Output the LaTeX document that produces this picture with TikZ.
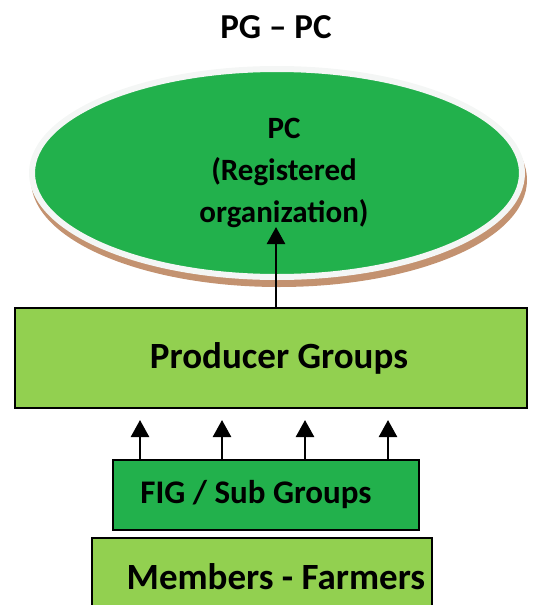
\documentclass[tikz,border=0pt]{standalone}
\usepackage{fontspec}
\setmainfont{Carlito}
\usetikzlibrary{arrows.meta,positioning,shapes.geometric}
\definecolor{pcgreen}{RGB}{34,177,76}
\definecolor{pglight}{RGB}{146,208,80}
\definecolor{pcshadow}{RGB}{195,146,112}
\definecolor{pcrim}{RGB}{244,246,245}
\tikzset{%
	pcblob/.style   = {ellipse, fill=pcgreen, draw=pcrim, line width=6pt, minimum width=490pt, minimum height=208pt, inner sep=0pt, align=center}, % PC
	pcshade/.style  = {pcblob, fill=pcshadow, draw=pcshadow}, % shadow of PC
	lightbox/.style = {draw, rectangle, fill=pglight, line width=1.5pt, inner sep=0pt}, % Groups
	darkbox/.style  = {draw, rectangle, fill=pcgreen, line width=1.5pt, inner sep=0pt}, % FIG
	uparrow/.style  = {line width=2.5pt, -{Triangle[length=17pt,width=18pt]}},
}

\begin{document}
\begin{tikzpicture}[x=1pt,y=-1pt,font=\bfseries]
	\useasboundingbox (0,0) rectangle (542,605);
	\node [font=\bfseries\fontsize{35}{40}\selectfont] (title) at (276,27) {PG -- PC};
	\node [pcshade] (pcback) at (279,180) {};
	\node [pcblob, font=\bfseries\fontsize{31}{42}\selectfont] (pc) at (277,173) {\hspace*{14pt}PC\\\hspace*{14pt}(Registered\\\hspace*{14pt}organization)};
	\node [lightbox, minimum width=512pt, minimum height=100pt, font=\bfseries\fontsize{37}{40}\selectfont] (pg) at (271,358) {\hspace*{16pt}Producer Groups};
	\node [darkbox, minimum width=306pt, minimum height=70pt, font=\bfseries\fontsize{33}{36}\selectfont] (fig) at (266,495) {FIG / Sub Groups\hspace*{20pt}};
	\node [lightbox, minimum width=340pt, minimum height=78pt, font=\bfseries\fontsize{37}{40}\selectfont] (mem) at (262,577) {\hspace*{28pt}Members - Farmers};
	
	\coordinate (pctip) at (276,227);
	\draw[uparrow] (pg.north -| pctip) -- (pctip);
	\foreach \x/\n in {140/a,222/b,305/c,388/d} {
		\coordinate (tip\n) at (\x,420);
		\draw[uparrow] (fig.north -| tip\n) -- (tip\n);
	}
\end{tikzpicture}
\end{document}
